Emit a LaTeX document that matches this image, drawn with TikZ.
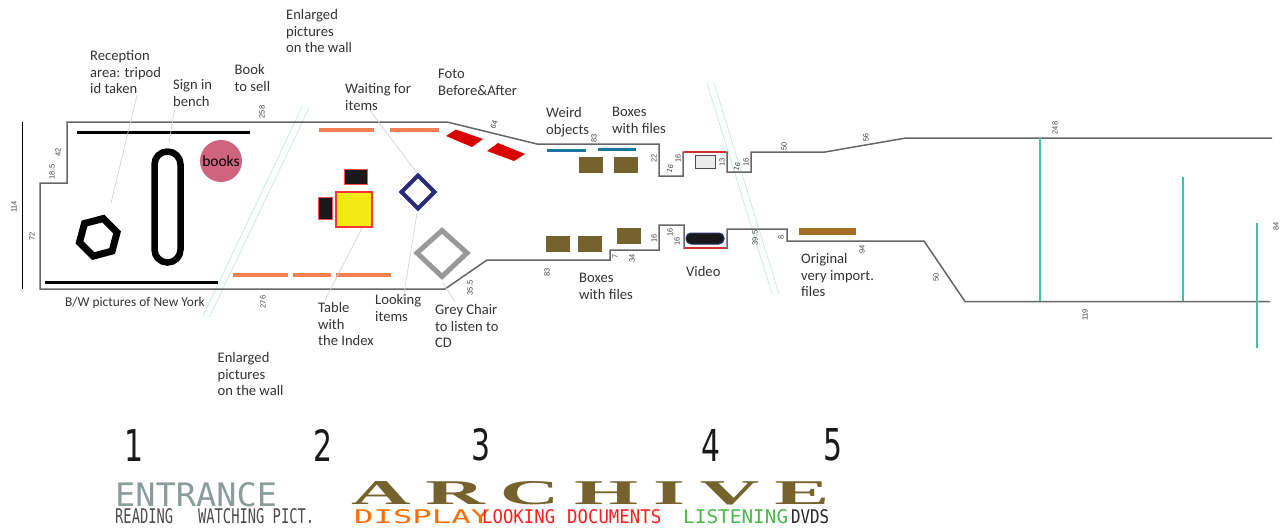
\documentclass[tikz,border=0pt]{standalone}
\usepackage{fontspec}
\usepackage{graphicx}
\setmainfont{Carlito}
\newfontfamily\dimfont{Liberation Sans}
\newfontfamily\bandfont{DejaVu Sans Mono}
\newfontfamily\archfont[LetterSpace=18]{Liberation Serif}
\newfontfamily\digitfont{DejaVu Sans}
\definecolor{wallgrey}{HTML}{666666}
\definecolor{leadgrey}{HTML}{D4D4D4}
\definecolor{palecyan}{HTML}{CDE9E6}
\definecolor{benchorange}{HTML}{F58055}
\definecolor{boxolive}{HTML}{75622C}
\definecolor{shelfblue}{HTML}{1A74A0}
\definecolor{roofgreen}{HTML}{3CC5A0}
\definecolor{booksrose}{HTML}{D0647F}
\definecolor{tableyellow}{HTML}{F2EA12}
\definecolor{filebrown}{HTML}{A56D25}
\definecolor{navyline}{HTML}{2A2A78}
\definecolor{entrancegrey}{HTML}{8B9C9B}
\newcommand{\fittext}[3]{\resizebox{#1pt}{#2pt}{#3}}
\tikzset{
  note/.style={anchor=north west, align=left, inner sep=0pt, text=black!80, font=\fontsize{14.6}{16.8}\selectfont},
  dimlabel/.style={inner sep=0pt, rotate=90, text=black!75, font=\dimfont\fontsize{7.5}{8}\selectfont},
  band/.style={anchor=south west, inner sep=0pt},
  leader/.style={leadgrey, line width=0.7pt},
  wall/.style={wallgrey, line width=1.5pt, line join=miter},
  cutline/.style={palecyan, line width=0.8pt},
  orangebar/.style={benchorange, line width=4.5pt},
  tealpost/.style={roofgreen, line width=1.5pt},
}
\begin{document}
\begin{tikzpicture}[x=1pt, y=-1pt]
    \useasboundingbox (0,0) rectangle (1284,527);
    % coupes
    \draw[cutline] (302,107) -- (203,316);
    \draw[cutline] (309,108) -- (209,318);
    \draw[cutline] (707,83) -- (772,294);
    \draw[cutline] (714,83) -- (779,294);
    % murs
    \draw[black, line width=1.2pt] (22.5,122) -- (22.5,289);
    \draw[wall] (1272,138) -- (906,138) -- (825,152) -- (751,152) -- (751,172) -- (727,172) -- (727,152) -- (683,152) -- (683,176) -- (659,176) -- (659,144) -- (537,144) -- (447,122) -- (67,122) -- (67,183) -- (40,183) -- (40,289) -- (445,289) -- (487,260) -- (610,260) -- (610,250) -- (659,250) -- (659,225) -- (684,225) -- (684,248) -- (727,248) -- (727,229) -- (787,229) -- (787,241) -- (924,241) -- (965,301.5) -- (1270,301.5);
    \draw[red!60!gray, line width=1.2pt] (684,152) -- (726,152);
    \draw[red!60!gray, line width=1.2pt] (685,248) -- (726,248);
    \draw[tealpost] (1040,138) -- (1040,301);
    \draw[tealpost] (1183,177) -- (1183,301);
    \draw[tealpost] (1257,223) -- (1257,348);
    % entree
    \draw[black, line width=3pt] (77,132) -- (250,132);
    \draw[black, line width=3pt] (45,282) -- (218,282);
    \draw[black, line width=6.5pt, rounded corners=12.9pt] (154.5,151.5) rectangle (180.5,262.5);
    \draw[black, line width=7pt, line join=miter] (117.1,232.3) -- (103.3,218.5) -- (84.5,223.5) -- (79.5,242.3) -- (93.3,256.1) -- (112.1,251.1) -- cycle;
    \node[circle, fill=booksrose, minimum size=42pt, inner sep=0pt, font=\fontsize{15.5}{15.5}\selectfont] (books) at (221,161) {books};
    % photos
    \foreach \xa/\xb/\yy in {319/374/130, 390/439/130, 233/288/275, 293/331/275, 336/391/275}
        \draw[orangebar] (\xa,\yy) -- (\xb,\yy);
    % table
    \draw[fill=black!90, draw=red!70!white, line width=1pt] (344,169) rectangle (367,184);
    \draw[fill=black!90, draw=red!70!white, line width=1pt] (318,197) rectangle (332,219);
    \draw[fill=tableyellow, draw=red!80!white, line width=1.2pt] (336,192) rectangle (372,227);
    \draw[navyline, line width=4pt, line join=miter] (418,175.5) -- (434.5,192) -- (418,208.5) -- (401.5,192) -- cycle;
    \draw[black!40, line width=5pt, line join=miter] (442,230.5) -- (467,253) -- (442,276.5) -- (417,253) -- cycle;
    \fill[red!85!black] (446,136) -- (456,129.5) -- (483,139) -- (472,147) -- cycle;
    \fill[red!85!black] (487,151) -- (498,143) -- (525,154) -- (514,161) -- cycle;
    % archives
    \draw[shelfblue, line width=3pt] (547,150.5) -- (586,150.5);
    \draw[shelfblue, line width=3pt] (598,149) -- (636,149);
    \foreach \xa/\ya in {579/157, 613.5/157, 546/236, 578/236, 617/228}
        \fill[boxolive] (\xa,\ya) rectangle ++(24,16);
    \draw[fill=black!8, draw=black!70, line width=1pt] (695,155) rectangle (715,168);
    \draw[fill=black!90, draw=navyline, line width=1pt, rounded corners=5pt] (686,233) rectangle (724,244);
    \fill[filebrown] (799,227.5) rectangle (856,234.5);
    % legendes
    \node[note] (reception) at (90,50) {Reception\\area: tripod\\id taken};
    \node[note] (signin) at (173,79) {Sign in\\bench};
    \node[note] (booksell) at (234.5,64) {Book\\to sell};
    \node[note] (enlargedtop) at (286,9) {Enlarged\\pictures\\on the wall};
    \node[note] (waiting) at (345,83) {Waiting for\\items};
    \node[note] (foto) at (438,69) {Foto\\Before\&After};
    \node[note] (weird) at (546,107) {Weird\\objects};
    \node[note] (boxestop) at (612,107) {Boxes\\with files};
    \node[note, font=\fontsize{13.4}{16}\selectfont] (bwpict) at (65,297) {B/W pictures of New York};
    \node[note] (tableidx) at (318,302) {Table\\with\\the Index};
    \node[note] (looking) at (375,294) {Looking\\items};
    \node[note] (greychair) at (435,304) {Grey Chair\\to listen to\\CD};
    \node[note] (enlargedlow) at (217.5,352) {Enlarged\\pictures\\on the wall};
    \node[note] (boxeslow) at (579,273) {Boxes\\with files};
    \node[note] (video) at (686,266) {Video};
    \node[note] (original) at (801,253) {Original\\very import.\\files};
    % traits de rappel
    \coordinate (tripod) at (111,203);
    \coordinate (bench) at (169,143);
    \coordinate (tabletop) at (362,228);
    \coordinate (diamondtop) at (417,173);
    \coordinate (diamondlow) at (417,213);
    \coordinate (chairlow) at (443,283);
    \draw[leader] (reception.south west) ++(47,1) -- (tripod);
    \draw[leader] (signin.south west) ++(2,0) -- (bench);
    \draw[leader] (waiting.south west) ++(25,0) -- (diamondtop);
    \draw[leader] (tableidx.north west) ++(7,-2) -- (tabletop);
    \draw[leader] (looking.north west) ++(28,6) -- (diamondlow);
    \draw[leader] (greychair.north west) ++(20,-2) -- (chairlow);
    % cotes
    \foreach \xx/\yy/\val in {262/112/258, 58/152/42, 52/172/18.5, 14/207/114, 32/236/72, 263/302/276, 594/138/83, 654/158/22, 678/158/16, 722/162/13, 746/162/16, 784/146/50, 1055/128/248, 1085/315/119, 1276/226/84, 862/249/94, 936/277/50, 470/288/35.5, 547/272/83, 615/256/7, 632/258/34, 654/238/16, 670/232/16, 677/241/16, 755/238/39.5, 781/237/8}
        \node[dimlabel] (dim\xx) at (\xx,\yy) {\val};
    \node[dimlabel, rotate=-20] (dimslant) at (494,125) {64};
    \node[dimlabel, rotate=-20] (dimstep) at (670,169) {16};
    \node[dimlabel, rotate=-20] (dimsill) at (737,167) {16};
    \node[dimlabel, rotate=5] (dimroof) at (866,138) {56};
    % bandeau
    \foreach \xx/\val in {134/1, 323/2, 481/3, 711/4, 833/5}
        \node[inner sep=0pt, text=black!90] (step\val) at (\xx,445) {\fittext{19}{32}{\digitfont\val}};
    \node[band, text=entrancegrey] (entrance) at (115,507) {\fittext{162}{24}{\bandfont ENTRANCE}};
    \node[band, text=black!70] (reading) at (115,524) {\fittext{199}{15}{\bandfont READING\ \ \ WATCHING\ PICT.}};
    \node[band, text=boxolive] (archive) at (351,505.5) {\fittext{478}{23}{\archfont\bfseries ARCHIVE}};
    \node[band, text=orange!85!red] (display) at (354,524) {\fittext{136}{14}{\bandfont DISPLAY}};
    \node[band, text=red!85!pink] (lookingdoc) at (482,524) {\fittext{73}{14}{\bandfont LOOKING}};
    \node[band, text=red!85!pink] (documents) at (567,524) {\fittext{94}{14}{\bandfont DOCUMENTS}};
    \node[band, text=green!60!black!70!white] (listening) at (683,524) {\fittext{105}{14}{\bandfont LISTENING}};
    \node[band, text=black!85] (dvds) at (791,524) {\fittext{38}{14}{\bandfont DVDS}};
\end{tikzpicture}
\end{document}
